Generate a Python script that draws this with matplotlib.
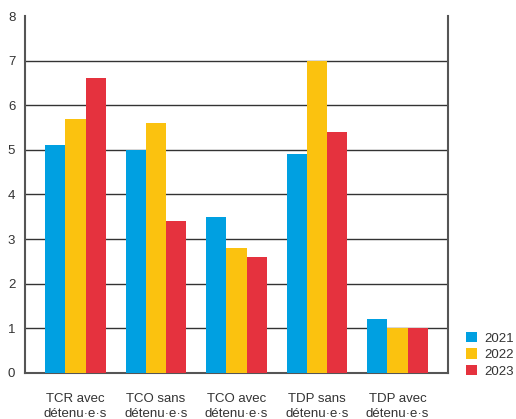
import matplotlib
matplotlib.use("Agg")
import matplotlib.pyplot as plt
import numpy as np

plt.rcParams['font.family'] = ['Liberation Sans', 'DejaVu Sans']

categories = ["TCR avec\ndétenu·e·s", "TCO sans\ndétenu·e·s", "TCO avec\ndétenu·e·s",
              "TDP sans\ndétenu·e·s", "TDP avec\ndétenu·e·s"]
years = ["2021", "2022", "2023"]
v2021 = [5.1, 5.0, 3.5, 4.9, 1.2]
v2022 = [5.7, 5.6, 2.8, 7.0, 1.0]
v2023 = [6.6, 3.4, 2.6, 5.4, 1.0]
colors = ["#00A0E1", "#FBC20F", "#E5323E"]
yticks = [0, 1, 2, 3, 4, 5, 6, 7, 8]

fig = plt.figure(figsize=(5.16, 4.19), dpi=100)
ax = fig.add_axes([0.0484, 0.1098, 0.8198, 0.852])

x = np.arange(len(categories))
w = 0.25
for i, (vals, c, lab) in enumerate(zip([v2021, v2022, v2023], colors, years)):
    ax.bar(x + (i - 1) * w, vals, width=w, color=c, label=lab, zorder=3)

ax.set_xlim(-0.627, 4.627)
ax.set_ylim(0, 8)
ax.set_yticks(yticks)
ax.set_yticklabels([str(t) for t in yticks])
for t in yticks[1:-1]:
    ax.axhline(t, color="#333333", lw=1.0, zorder=1)

ax.set_xticks(x)
ax.set_xticklabels(categories, fontsize=9.5, color="#333333", linespacing=1.35)
ax.tick_params(axis="x", length=0, pad=14.5)
ax.tick_params(axis="y", length=0, pad=7, labelsize=9.5, labelcolor="#333333")

ax.spines["top"].set_visible(False)
for side in ["left", "right", "bottom"]:
    ax.spines[side].set_color("#555555")
    ax.spines[side].set_linewidth(1.5)

leg = ax.legend(loc="lower left", bbox_to_anchor=(1.03, -0.028), frameon=False,
                fontsize=9.5, handlelength=0.8, handleheight=0.8, handletextpad=0.6,
                labelspacing=0.3, borderaxespad=0)
for t in leg.get_texts():
    t.set_color("#333333")

fig.savefig("out.png", dpi=100)
